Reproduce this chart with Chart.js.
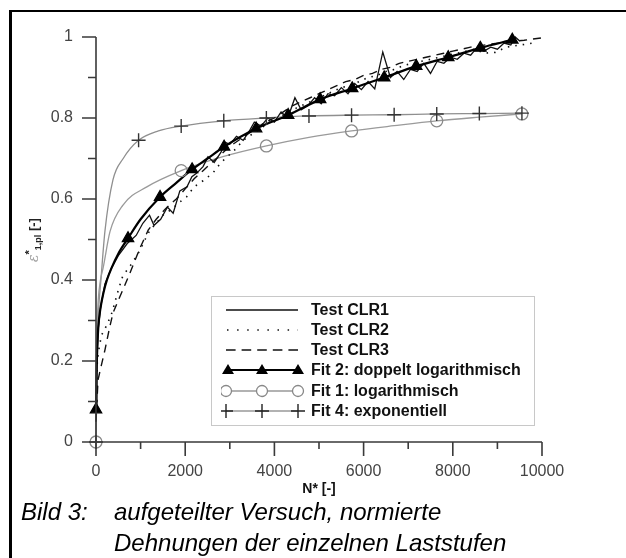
<!DOCTYPE html>
<html>
<head>
<meta charset="utf-8">
<script src="https://cdn.jsdelivr.net/npm/chart.js@4.4.1/dist/chart.umd.min.js"></script>
<style>
  html, body { margin:0; padding:0; background:#fff; }
  #wrap { position:relative; width:626px; height:558px; overflow:hidden; font-family:"Liberation Sans", Arial, sans-serif; }
  #frame { position:absolute; left:9px; top:10px; width:640px; height:600px; border-top:2px solid #000; border-left:3px solid #000; box-sizing:border-box; pointer-events:none; }
  #c { position:absolute; left:0; top:0; }
  #ytitle { position:absolute; left:33px; top:240px; transform:translate(-50%,-50%) rotate(-90deg); white-space:nowrap; font-weight:bold; font-size:13px; color:#222; }
  #ytitle .eps { color:#a0a0a0; font-weight:normal; font-family:"DejaVu Serif", serif; font-style:italic; font-size:14px; }
  #ytitle sup { font-size:11px; }
  #ytitle sub { font-size:9px; }
  #legend { position:absolute; left:211px; top:296px; width:324px; height:130px; border:1px solid #c8c8c8; background:#fff; box-sizing:border-box; }
  .row { position:absolute; left:0; height:20px; width:322px; }
  .row svg { position:absolute; left:9px; top:0; }
  .row span { position:absolute; left:99px; top:1px; font-weight:bold; font-size:16px; line-height:18px; color:#111; white-space:nowrap; }
  .cap { position:absolute; font-style:italic; font-size:24px; color:#000; white-space:nowrap; line-height:28px; }
</style>
</head>
<body>
<div id="wrap">
  <canvas id="c" width="626" height="558"></canvas>
  <div id="frame"></div>
  <div id="ytitle"><span class="eps">ε</span><sup>*</sup><sub>1,pl</sub> [-]</div>
  <div id="legend">
    <div class="row" style="top:3px">
      <svg width="84" height="20"><line x1="5" y1="10" x2="77" y2="10" stroke="#111" stroke-width="1.5"/></svg>
      <span>Test CLR1</span>
    </div>
    <div class="row" style="top:23px">
      <svg width="84" height="20"><line x1="6" y1="10" x2="77" y2="10" stroke="#111" stroke-width="1.5" stroke-dasharray="1.5 8.6"/></svg>
      <span>Test CLR2</span>
    </div>
    <div class="row" style="top:43px">
      <svg width="84" height="20"><line x1="5" y1="10" x2="77" y2="10" stroke="#111" stroke-width="1.5" stroke-dasharray="9.6 6"/></svg>
      <span>Test CLR3</span>
    </div>
    <div class="row" style="top:63px">
      <svg width="84" height="20"><line x1="7" y1="10" x2="77" y2="10" stroke="#000" stroke-width="2.2"/>
        <polygon points="7,4 13,14 1,14" fill="#000"/><polygon points="41,4 47,14 35,14" fill="#000"/><polygon points="77,4 83,14 71,14" fill="#000"/></svg>
      <span>Fit 2: doppelt logarithmisch</span>
    </div>
    <div class="row" style="top:84px">
      <svg width="84" height="20"><line x1="5" y1="10" x2="77" y2="10" stroke="#999" stroke-width="1.3"/>
        <circle cx="5" cy="10" r="5.5" fill="#fff" stroke="#888" stroke-width="1.3"/><circle cx="41" cy="10" r="5.5" fill="#fff" stroke="#888" stroke-width="1.3"/><circle cx="77" cy="10" r="5.5" fill="#fff" stroke="#888" stroke-width="1.3"/></svg>
      <span>Fit 1: logarithmisch</span>
    </div>
    <div class="row" style="top:104px">
      <svg width="84" height="20"><line x1="5" y1="10" x2="77" y2="10" stroke="#666" stroke-width="1.2"/>
        <path d="M-2 10H12M5 3V17M34 10H48M41 3V17M70 10H84M77 3V17" stroke="#222" stroke-width="1.4"/></svg>
      <span>Fit 4: exponentiell</span>
    </div>
  </div>
  <div class="cap" style="left:21px; top:498px;">Bild 3:</div>
  <div class="cap" style="left:114px; top:498px;">aufgeteilter Versuch, normierte</div>
  <div class="cap" style="left:114px; top:529px;">Dehnungen der einzelnen Laststufen</div>
</div>
<script>
// ---- data ----
const xTicks = [0, 2000, 4000, 6000, 8000, 10000];
const yTicks = [0, 0.2, 0.4, 0.6, 0.8, 1];

const clr1N = [0,20,50,100,200,350,500,700,900,1050,1200,1300,1450,1600,1730,1880,2040,2150,2260,2400,2510,2650,2800,2900,3000,3150,3300,3450,3550,3700,3850,4000,4150,4300,4460,4600,4750,4900,5050,5200,5350,5500,5650,5800,5950,6100,6250,6430,6600,6750,6900,7050,7200,7350,7500,7650,7800,7950,8100,8250,8400,8550,8700,8850,9000,9150,9300,9400,9500];
const clr1E = [0.10,0.20,0.28,0.33,0.39,0.43,0.46,0.49,0.51,0.54,0.56,0.535,0.55,0.58,0.565,0.62,0.63,0.655,0.664,0.68,0.704,0.69,0.715,0.74,0.735,0.755,0.745,0.77,0.79,0.78,0.80,0.79,0.815,0.80,0.85,0.82,0.83,0.85,0.835,0.86,0.855,0.875,0.86,0.885,0.87,0.89,0.872,0.963,0.90,0.915,0.895,0.92,0.915,0.935,0.91,0.94,0.935,0.95,0.945,0.96,0.955,0.975,0.965,0.975,0.97,0.985,0.98,1.0,0.99];

const clr2N = [0,30,80,130,250,360,500,600,800,990,1100,1210,1350,1500,1700,1850,2030,2200,2400,2620,2800,2940,3100,3300,3500,3700,3900,4100,4300,4500,4700,4900,5100,5300,5500,5700,5900,6100,6300,6500,6700,6900,7100,7300,7500,7700,7900,8100,8300,8500,8700,8950,9200,9500,9800];
const clr2E = [0.10,0.20,0.24,0.265,0.29,0.32,0.375,0.41,0.44,0.474,0.50,0.523,0.54,0.56,0.575,0.59,0.605,0.63,0.645,0.664,0.69,0.704,0.72,0.745,0.76,0.775,0.79,0.80,0.815,0.825,0.835,0.845,0.855,0.865,0.875,0.88,0.89,0.90,0.905,0.915,0.92,0.93,0.935,0.94,0.945,0.95,0.955,0.96,0.965,0.97,0.96,0.962,0.975,0.98,0.985];

const clr3N = [0,45,100,200,300,380,500,600,760,880,990,1170,1350,1550,1800,2000,2200,2400,2600,2800,3000,3200,3400,3600,3800,4000,4200,4400,4600,4800,5000,5200,5400,5600,5800,6000,6200,6400,6600,6800,7000,7200,7400,7600,7800,8000,8200,8400,8600,8800,9000,9200,9400,9600,9800,10000,10330];
const clr3E = [0.05,0.153,0.18,0.227,0.28,0.318,0.35,0.375,0.417,0.45,0.48,0.523,0.55,0.575,0.60,0.625,0.65,0.67,0.69,0.71,0.73,0.745,0.76,0.775,0.79,0.80,0.815,0.83,0.84,0.85,0.86,0.87,0.88,0.89,0.895,0.905,0.91,0.92,0.925,0.935,0.94,0.945,0.95,0.955,0.96,0.965,0.97,0.975,0.978,0.982,0.985,0.987,0.99,0.992,0.995,0.998,1.0];

const fit2N = [0,10,25,50,100,170,245,350,500,718,1000,1436,1800,2154,2500,2872,3590,4308,5026,5744,6462,7180,7898,8616,9334];
const fit2E = [0.08,0.16,0.22,0.28,0.33,0.37,0.40,0.43,0.465,0.503,0.55,0.605,0.64,0.673,0.70,0.729,0.774,0.807,0.846,0.873,0.90,0.928,0.95,0.973,0.993];
const fit2MarkN = [0,718,1436,2154,2872,3590,4308,5026,5744,6462,7180,7898,8616,9334];
const fit2MarkE = [0.08,0.503,0.605,0.673,0.729,0.774,0.807,0.846,0.873,0.90,0.928,0.95,0.973,0.993];

const fit1N = [0,2,5,10,25,50,100,160,315,605,1140,1910,2865,3820,4775,5730,6685,7640,8595,9550];
const fit1E = [0,0.07,0.15,0.21,0.29,0.35,0.40,0.43,0.52,0.585,0.63,0.67,0.705,0.731,0.752,0.768,0.781,0.793,0.802,0.81];
const fit1MarkN = [0,1910,3820,5730,7640,9550];
const fit1MarkE = [0,0.67,0.731,0.768,0.793,0.81];

const fit4N = [0,10,30,60,110,200,380,610,955,1400,1910,2865,3820,4775,5730,6685,7640,8595,9550];
const fit4E = [0,0.15,0.25,0.33,0.40,0.52,0.647,0.70,0.745,0.768,0.78,0.793,0.80,0.805,0.807,0.808,0.81,0.811,0.812];
const fit4MarkN = [0,955,1910,2865,3820,4775,5730,6685,7640,8595,9550];
const fit4MarkE = [0,0.745,0.78,0.793,0.80,0.805,0.807,0.808,0.81,0.811,0.812];

const zip = (xs, ys) => xs.map((x, i) => ({ x: x, y: ys[i] }));

// ---- custom axis lines + major/minor ticks ----
const axisPlugin = {
  id: 'axisTicks',
  afterDraw(chart) {
    const ctx = chart.ctx, xs = chart.scales.x, ys = chart.scales.y;
    const x0 = xs.getPixelForValue(0), y0 = ys.getPixelForValue(0);
    ctx.save();
    ctx.strokeStyle = '#3a3a3a';
    ctx.lineWidth = 1.6;
    ctx.beginPath();
    ctx.moveTo(x0, ys.getPixelForValue(1)); ctx.lineTo(x0, y0);
    ctx.moveTo(x0, y0); ctx.lineTo(xs.getPixelForValue(10000), y0);
    for (let i = 0; i <= 10; i++) {
      const py = ys.getPixelForValue(i / 10);
      const len = (i % 2 === 0) ? 14 : 8;
      ctx.moveTo(x0 - len, py); ctx.lineTo(x0, py);
    }
    for (let i = 0; i <= 10; i++) {
      const px = xs.getPixelForValue(i * 1000);
      const len = (i % 2 === 0) ? 14 : 7;
      ctx.moveTo(px, y0); ctx.lineTo(px, y0 + len);
    }
    ctx.stroke();
    ctx.restore();
  }
};

const markerBase = { showLine: false, clip: false, borderWidth: 1.3 };
const lineBase = { pointRadius: 0, clip: false, fill: false };

new Chart(document.getElementById('c'), {
  type: 'line',
  data: {
    datasets: [
      Object.assign({ label: 'Fit 2 markers', data: zip(fit2MarkN, fit2MarkE), pointStyle: 'triangle', pointRadius: 6.5, backgroundColor: '#000', borderColor: '#000' }, markerBase),
      Object.assign({ label: 'Fit 4 markers', data: zip(fit4MarkN, fit4MarkE), pointStyle: 'cross', pointRadius: 7, borderColor: '#333', backgroundColor: '#333', borderWidth: 1.4 }, { showLine: false, clip: false }),
      Object.assign({ label: 'Fit 1 markers', data: zip(fit1MarkN, fit1MarkE), pointStyle: 'circle', pointRadius: 6, backgroundColor: 'rgba(255,255,255,0)', borderColor: '#8a8a8a' }, markerBase),
      Object.assign({ label: 'Fit 2: doppelt logarithmisch', data: zip(fit2N, fit2E), borderColor: '#000', borderWidth: 2.2, cubicInterpolationMode: 'monotone' }, lineBase),
      Object.assign({ label: 'Test CLR1', data: zip(clr1N, clr1E), borderColor: '#111', borderWidth: 1.3, tension: 0 }, lineBase),
      Object.assign({ label: 'Test CLR2', data: zip(clr2N, clr2E), borderColor: '#111', borderWidth: 1.6, borderDash: [1.5, 6], tension: 0 }, lineBase),
      Object.assign({ label: 'Test CLR3', data: zip(clr3N, clr3E), borderColor: '#111', borderWidth: 1.4, borderDash: [8, 6], tension: 0 }, lineBase),
      Object.assign({ label: 'Fit 1: logarithmisch', data: zip(fit1N, fit1E), borderColor: '#9a9a9a', borderWidth: 1.3, cubicInterpolationMode: 'monotone' }, lineBase),
      Object.assign({ label: 'Fit 4: exponentiell', data: zip(fit4N, fit4E), borderColor: '#8f8f8f', borderWidth: 1.3, cubicInterpolationMode: 'monotone' }, lineBase)
    ]
  },
  options: {
    responsive: false,
    animation: false,
    devicePixelRatio: 1,
    layout: { padding: { left: 0, right: 84, top: 37, bottom: 56 } },
    plugins: { legend: { display: false }, tooltip: { enabled: false } },
    scales: {
      x: {
        type: 'linear', min: 0, max: 10000,
        afterFit: s => { s.height = 60; },
        afterBuildTicks: s => { s.ticks = xTicks.map(v => ({ value: v })); },
        grid: { display: false, drawTicks: false },
        border: { display: false },
        ticks: { padding: 20, color: '#444', font: { family: '"Liberation Sans", Arial, sans-serif', size: 16 }, callback: v => String(v), maxRotation: 0 },
        title: { display: true, text: 'N* [-]', color: '#111', font: { family: '"Liberation Sans", Arial, sans-serif', size: 14, weight: 'bold' }, padding: { top: 0, bottom: 4 } }
      },
      y: {
        type: 'linear', min: 0, max: 1,
        afterFit: s => { s.width = 96; },
        afterBuildTicks: s => { s.ticks = yTicks.map(v => ({ value: v })); },
        grid: { display: false, drawTicks: false },
        border: { display: false },
        ticks: { padding: 23, color: '#444', font: { family: '"Liberation Sans", Arial, sans-serif', size: 16 }, callback: v => String(v) }
      }
    }
  },
  plugins: [axisPlugin]
});
</script>
</body>
</html>
